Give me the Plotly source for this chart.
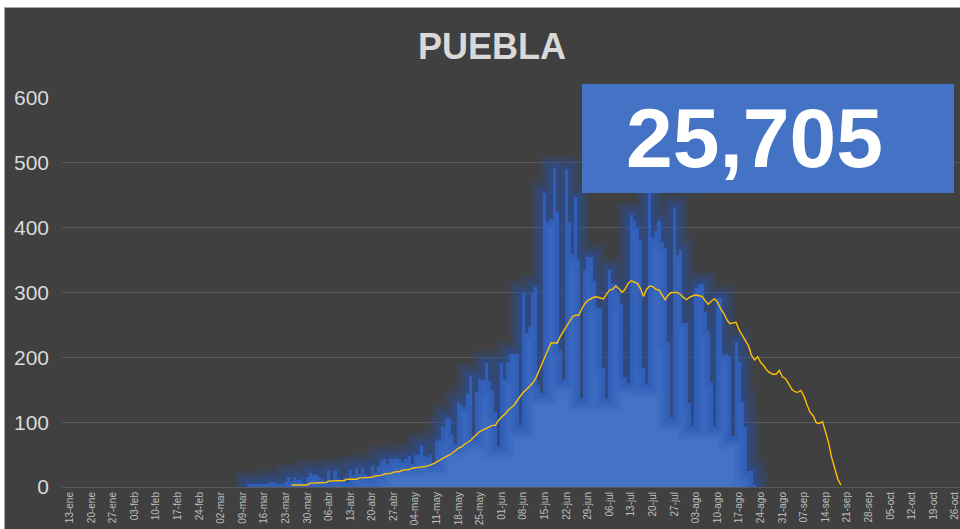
import pandas as pd
import plotly.graph_objects as go

# daily new cases, starting 11-mar-2020
BAR_START = "2020-03-11"
CASES = [
    5, 5, 5, 4, 5, 5, 5,
    8, 8, 6, 5, 5, 8,
    16, 9, 15, 11, 13, 4,
    16, 22, 19, 19, 15, 13, 8,
    25, 11, 25, 13, 11, 15, 8,
    27, 19, 30, 20, 30, 20, 15,
    32, 21, 32, 40, 43, 35, 43,
    43, 45, 43, 39, 43, 48, 35, 50, 50,
    64, 48, 46, 49, 37, 71, 74,
    93, 107, 105, 80, 66, 130, 127,
    123, 144, 171, 76, 146, 167, 165,
    191, 164, 150, 116, 64, 191, 167,
    193, 205, 205, 205, 95, 299, 237,
    247, 299, 308,
    157, 145, 453, 409, 414, 492, 424, 211, 165, 490, 409,
    359, 447, 352, 137, 334, 355, 355, 317, 276, 276, 183, 137, 334, 313, 313,
    300, 282, 169, 161, 420, 411, 401, 381, 183, 159,
    453, 386, 395, 410, 378, 369, 224, 106, 431, 358, 366, 253, 253, 130, 94,
    307, 313, 313, 270, 240, 162, 94, 291, 291, 204, 205, 202, 78, 224, 193,
    131, 93, 24, 24, 3,
]

# yellow trend line, starting 25-mar-2020
LINE_START = "2020-03-25"
TREND = [
    3, 3, 3, 3, 3, 3,
    6, 6, 7, 7, 7, 7,
    9, 9, 9, 9, 9, 10,
    12, 12, 12, 12,
    14, 14, 15, 15, 15,
    17, 17, 18,
    20, 20, 21,
    23, 23, 24,
    26, 26, 27,
    29, 30, 30, 31, 31, 32,
    34, 36, 39, 42, 45, 47, 49, 52, 56, 60,
    62, 66, 69, 72, 77, 81, 86, 88, 90, 93,
    95, 95, 103, 108, 112, 118, 122, 126, 133, 139,
    146, 150, 155, 160, 167, 178, 190, 202, 212, 222,
    222, 222, 232, 240, 247, 257, 263, 265, 265, 275,
    283, 288, 291, 293, 293, 292, 290, 297, 304, 305,
    310, 306, 300, 305, 314, 318, 316, 314, 306, 294,
    305, 310, 309, 305, 304, 297, 289, 296, 300, 300,
    300, 297, 292, 289, 293, 295, 296, 295, 294, 287,
    282, 287, 290, 285, 275, 268, 258, 252, 253, 254,
    242, 234, 226, 218, 203, 196, 201, 192, 187, 180,
    176, 174, 174, 180, 170, 167, 160, 151, 147, 146,
    149, 140, 127, 115, 110, 99, 98, 101, 85, 68,
    45, 28, 12, 3,
]

TICK_START = "2020-01-13"
TICK_LABELS = [
    "13-ene", "20-ene", "27-ene", "03-feb", "10-feb", "17-feb", "24-feb",
    "02-mar", "09-mar", "16-mar", "23-mar", "30-mar", "06-abr", "13-abr",
    "20-abr", "27-abr", "04-may", "11-may", "18-may", "25-may", "01-jun",
    "08-jun", "15-jun", "22-jun", "29-jun", "06-jul", "13-jul", "20-jul",
    "27-jul", "03-ago", "10-ago", "17-ago", "24-ago", "31-ago", "07-sep",
    "14-sep", "21-sep", "28-sep", "05-oct", "12-oct", "19-oct", "26-oct",
]

TOTAL = "25,705"
TITLE = "PUEBLA"

BG = "#404040"
BLUE = "#4472C4"
YELLOW = "#FFC000"

bar_dates = pd.date_range(BAR_START, periods=len(CASES), freq="D")
line_dates = pd.date_range(LINE_START, periods=len(TREND), freq="D")
tick_vals = pd.date_range(TICK_START, periods=len(TICK_LABELS), freq="7D")

# outline of the bar silhouette, used for the soft glow behind the bars
half = pd.Timedelta(hours=12)
edges = list(bar_dates - half) + [bar_dates[-1] + half]
glow_x = [edges[0]] + edges
glow_y = [0] + list(CASES) + [0]

fig = go.Figure()

for w, a in [(26, 0.14), (19, 0.18), (12, 0.22), (6, 0.25)]:
	fig.add_trace(go.Scatter(
		x=glow_x, y=glow_y,
		mode="lines",
		line=dict(color="rgba(38,82,175,%s)" % a, width=w, shape="hv"),
		hoverinfo="skip",
	))

fig.add_trace(go.Bar(
	x=bar_dates, y=CASES,
	marker=dict(color=BLUE, line=dict(width=0)),
))

fig.add_trace(go.Scatter(
	x=line_dates, y=TREND,
	mode="lines",
	line=dict(color=YELLOW, width=1.4),
))

# plot area in pixels: x 62..960, y 98..487
def px(x):
	return (x - 62) / 898.0

def py(y):
	return (487 - y) / 389.0

shapes = [
	# white page edges around the chart
	dict(type="rect", xref="paper", yref="paper", x0=px(0), x1=px(960), y0=py(7), y1=py(0),
		fillcolor="white", line=dict(width=0), layer="above"),
	dict(type="rect", xref="paper", yref="paper", x0=px(0), x1=px(4), y0=py(529), y1=py(0),
		fillcolor="white", line=dict(width=0), layer="above"),
	dict(type="line", xref="paper", yref="paper", x0=px(4), x1=px(960), y0=py(7.5), y1=py(7.5),
		line=dict(color="#a6a6a6", width=1), layer="above"),
	dict(type="line", xref="paper", yref="paper", x0=px(4.5), x1=px(4.5), y0=py(529), y1=py(7.5),
		line=dict(color="#a6a6a6", width=1), layer="above"),
	# total box
	dict(type="rect", xref="paper", yref="paper", x0=px(582), x1=px(954), y0=py(193), y1=py(84),
		fillcolor=BLUE, line=dict(width=0), layer="above"),
]

fig.update_layout(
	width=960, height=529,
	margin=dict(l=62, r=0, t=98, b=42),
	paper_bgcolor=BG, plot_bgcolor=BG,
	showlegend=False,
	bargap=0,
	font=dict(family="Liberation Sans, Arial, sans-serif", color="#d9d9d9"),
	title=dict(
		text="<b>%s</b>" % TITLE,
		x=492 / 960, xanchor="center",
		y=1 - 46 / 529, yanchor="middle",
		font=dict(size=36, color="#d9d9d9"),
	),
	shapes=shapes,
	annotations=[dict(
		xref="paper", yref="paper",
		x=px(754), y=py(138),
		xanchor="center", yanchor="middle",
		text="<b>%s</b>" % TOTAL,
		showarrow=False,
		font=dict(size=84, color="white"),
	)],
)

fig.update_xaxes(
	range=["2020-01-10 12:00", "2020-10-27 14:00"],
	tickvals=tick_vals, ticktext=TICK_LABELS,
	tickangle=-90,
	tickfont=dict(size=10, color="#bfbfbf"),
	ticklabeloverflow="allow",
	showgrid=False, zeroline=False,
	showline=True, linecolor="#595959", linewidth=1,
	ticks="",
)

fig.update_yaxes(
	range=[0, 600], dtick=100,
	tickfont=dict(size=21, color="#d9d9d9"),
	showgrid=True, gridcolor="#595959", gridwidth=1,
	zeroline=False, showline=False,
	ticklabelstandoff=12,
)

# the page body has a default margin; remove it so the chart fills the window
fig.write_html(
	"out.html",
	config={"displayModeBar": False},
	post_script="document.body.style.margin='0';",
)
